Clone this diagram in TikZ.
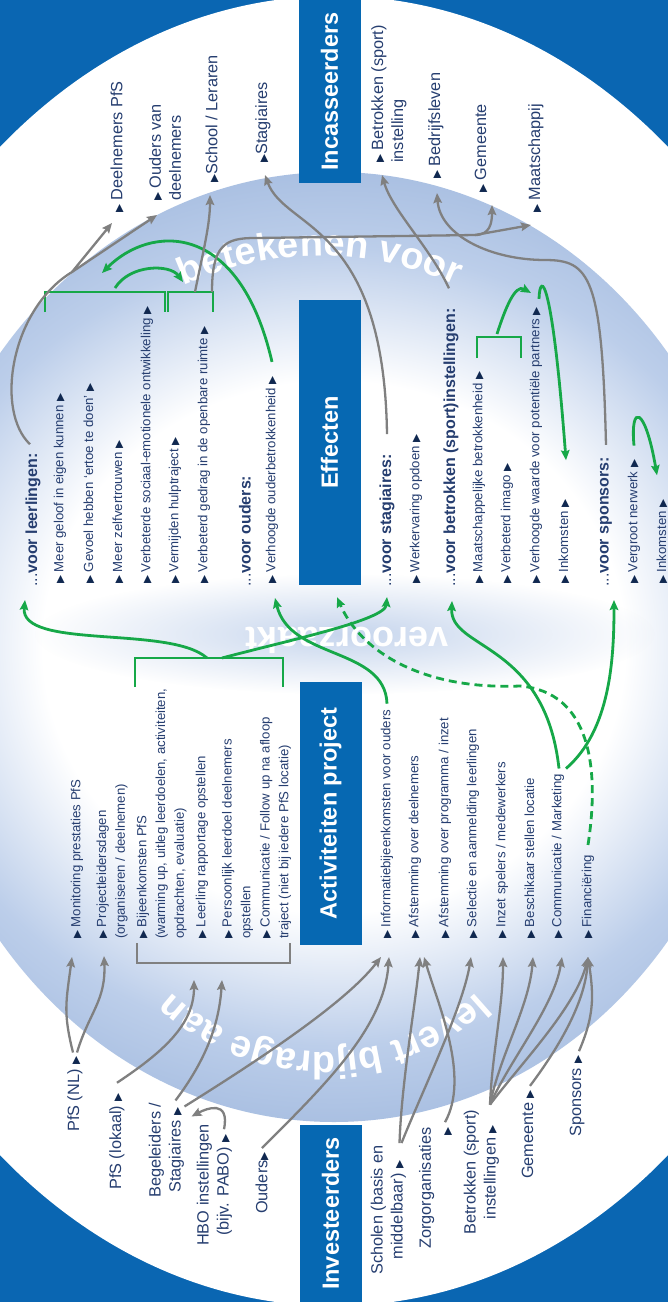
\documentclass[tikz,border=0pt]{standalone}
\usepackage{fontspec}
\setmainfont{Liberation Sans}
\newfontfamily\trifont{DejaVu Sans}
\usepackage{tikz}
\usetikzlibrary{arrows.meta, decorations.text, fadings}

\definecolor{bgblue}{RGB}{10,102,178}
\definecolor{barblue}{RGB}{6,104,178}
\definecolor{lensblue}{RGB}{188,206,234}
\definecolor{lensdeep}{RGB}{170,192,226}
\definecolor{navy}{RGB}{38,62,112}
\definecolor{trinavy}{RGB}{16,40,80}
\definecolor{arrowgrey}{RGB}{128,128,128}
\definecolor{arrowgreen}{RGB}{22,168,72}

\pgfdeclareradialshading{lens}{\pgfpoint{0bp}{0bp}}{color(0bp)=(white); color(14bp)=(white); color(21bp)=(lensblue); color(25bp)=(lensdeep); color(50bp)=(lensdeep)}
\tikzfading[name=cloudfade, inner color=transparent!15, outer color=transparent!100]

\newcommand{\tri}{{\trifont\fontsize{10.5}{10.5}\selectfont\color{trinavy}▶}}

\tikzstyle{lbl} = [rotate=90, anchor=west, inner sep=0pt, text=navy, align=left, font=\fontsize{16.3}{20}\selectfont]
\tikzstyle{lblc} = [lbl, align=center]
\tikzstyle{itembox} = [rotate=90, anchor=west, inner sep=0pt, text=navy, align=left, font=\fontsize{13.2}{18.7}\selectfont]
\tikzstyle{headbox} = [itembox, font=\fontsize{16}{19}\selectfont]
\tikzstyle{barbox} = [rectangle, rotate=90, fill=barblue, text=white, inner sep=0pt, minimum height=62pt, font=\bfseries\fontsize{23.5}{28}\selectfont]
\tikzstyle{greyline} = [draw=arrowgrey, line width=2.3pt, ->]
\tikzstyle{greenline} = [draw=arrowgreen, line width=2.8pt, ->]
\tikzstyle{greendash} = [greenline, dash pattern=on 8pt off 5pt]
\tikzstyle{greybrack} = [draw=arrowgrey, line width=2.3pt]
\tikzstyle{greenbrack} = [draw=arrowgreen, line width=2.8pt]

\begin{document}
\begin{tikzpicture}[x=1pt, y=1pt, >={Stealth[length=10pt, width=8.5pt, inset=1.5pt]}]

\useasboundingbox (0,0) rectangle (668,-1302);
\clip (0,0) rectangle (668,-1302);

% background
\fill[bgblue] (0,0) rectangle (668,-1302);
\fill[white] (334,-651) ellipse [x radius=523, y radius=655];
\begin{scope}
  \clip (334,-647) ellipse [x radius=425, y radius=475];
  \shade[shading=lens] (334,-647) ellipse [x radius=520, y radius=475];
\end{scope}
\fill[lensblue, path fading=cloudfade] (345,-634) ellipse [x radius=310, y radius=60];

% words along the arcs
\path[decorate, decoration={text along path, text color=white, text align=center,
  text={|\bfseries\fontsize{38}{38}\selectfont|betekenen voor}}]
  (320,-586) ++(160:330) arc[start angle=160, end angle=20, radius=330];
\path[decorate, decoration={text along path, text color=white, text align=center,
  text={|\bfseries\fontsize{38}{38}\selectfont|levert bijdrage aan}}]
  (324,-828) ++(-20:224) arc[start angle=-20, end angle=-160, radius=224];
\node[rotate=180, anchor=base, inner sep=0pt, text=white, font=\bfseries\fontsize{36}{36}\selectfont] (verz) at (347,-627) {veroorzaakt};

% column bars
\node[barbox, minimum width=183pt] (inc) at (329.5,-91.5) {Incasseerders};
\node[barbox, minimum width=285pt] (eff) at (329.5,-442.5) {Effecten};
\node[barbox, minimum width=263pt] (act) at (330.5,-813.5) {Activiteiten project};
\node[barbox, minimum width=177pt] (inv) at (330.5,-1213.5) {Investeerders};

% incasseerders
\node[lbl] (dln) at (117,-213) {\tri\ Deelnemers PfS};
\node[lbl] (oud) at (165,-201) {\tri\ Ouders van\\deelnemers};
\node[lbl] (sch) at (212,-183) {\tri School / Leraren};
\node[lbl] (stg) at (263,-163) {\tri Stagiaires};
\node[lbl] (btr) at (389,-163) {\tri\ Betrokken (sport)\\instelling};
\node[lbl] (bdr) at (436,-179) {\tri\ Bedrijfsleven};
\node[lbl] (gem) at (481,-193) {\tri\ Gemeente};
\node[lbl] (maa) at (536,-213) {\tri\ Maatschappij};

% effecten
\node[headbox] (vl) at (33,-587) {...\textbf{voor leerlingen:}};
\node[itembox] (e1) at (60,-584) {\tri\ Meer geloof in eigen kunnen \tri};
\node[itembox] (e2) at (89,-584) {\tri\ Gevoel hebben ‘ertoe te doen’ \tri};
\node[itembox] (e3) at (118,-584) {\tri\ Meer zelfvertrouwen \tri};
\node[itembox] (e4) at (147,-584) {\tri\ Verbeterde sociaal-emotionele ontwikkeling \tri};
\node[itembox] (e5) at (175,-584) {\tri\ Vermijden hulptraject \tri};
\node[itembox] (e6) at (204,-584) {\tri\ Verbeterd gedrag in de openbare ruimte \tri};
\node[headbox] (vo) at (245,-587) {...\textbf{voor ouders:}};
\node[itembox] (e7) at (272,-584) {\tri\ Verhoogde ouderbetrokkenheid \tri};
\node[headbox] (vs) at (387,-587) {...\textbf{voor stagiaires:}};
\node[itembox] (e8) at (416,-584) {\tri\ Werkervaring opdoen \tri};
\node[headbox] (vb) at (451,-587) {...\textbf{voor betrokken (sport)instellingen:}};
\node[itembox] (e9) at (479,-584) {\tri\ Maatschappelijke betrokkenheid \tri};
\node[itembox] (e10) at (507,-584) {\tri\ Verbeterd imago \tri};
\node[itembox] (e11) at (536,-584) {\tri\ Verhoogde waarde voor potentiële partners \tri};
\node[itembox] (e12) at (564,-584) {\tri\ Inkomsten \tri};
\node[headbox] (vsp) at (606,-587) {...\textbf{voor sponsors:}};
\node[itembox] (e13) at (634,-584) {\tri\ Vergroot nerwerk \tri};
\node[itembox] (e14) at (662,-584) {\tri\ Inkomsten \tri};

% activiteiten
\node[itembox] (a1) at (77,-939) {\tri\ Monitoring prestaties PfS};
\node[itembox] (a2) at (112,-939) {\tri\ Projectleidersdagen\\(organiseren / deelnemen)};
\node[itembox] (a3) at (161.7,-939) {\tri\ Bijeenkomsten PfS\\(warming up, uitleg leerdoelen, activiteiten,\\opdrachten, evaluatie)};
\node[itembox] (a4) at (202,-939) {\tri\ Leerling rapportage opstellen};
\node[itembox] (a5) at (237.5,-939) {\tri\ Persoonlijk leerdoel deelnemers\\opstellen};
\node[itembox] (a6) at (275.5,-939) {\tri\ Communicatie / Follow up na afloop\\traject (niet bij iedere PfS locatie)};
\node[itembox] (a7) at (387,-939) {\tri\ Informatiebijeenkomsten voor ouders};
\node[itembox] (a8) at (415,-939) {\tri\ Afstemming over deelnemers};
\node[itembox] (a9) at (445,-939) {\tri\ Afstemming over programma / inzet};
\node[itembox] (a10) at (473,-939) {\tri\ Selectie en aanmelding leerlingen};
\node[itembox] (a11) at (502,-939) {\tri\ Inzet spelers / medewerkers};
\node[itembox] (a12) at (530,-939) {\tri\ Beschikaar stellen locatie};
\node[itembox] (a13) at (558,-939) {\tri\ Communicatie / Marketing};
\node[itembox] (a14) at (588,-939) {\tri\ Financiëring};

% investeerders
\node[lblc] (i1) at (75,-1132) {PfS (NL) \tri};
\node[lblc] (i2) at (117,-1190) {PfS (lokaal) \tri};
\node[lblc] (i3) at (166.5,-1198) {Begeleiders /\\Stagiaires \tri};
\node[lblc] (i4) at (214.5,-1246) {HBO instellingen\\(bijv. PABO) \tri};
\node[lblc] (i5) at (262,-1214) {Ouders\tri};
\node[lblc] (i6) at (388.5,-1275) {Scholen (basis en\\middelbaar) \tri};
\node[lbl, align=right] (i7) at (435.5,-1249) {Zorgorganisaties\\\tri};
\node[lblc] (i8) at (481.5,-1235) {Betrokken (sport)\\instellingen \tri};
\node[lblc] (i9) at (528,-1179) {Gemeente \tri};
\node[lblc] (i10) at (577,-1137) {Sponsors \tri};

% brackets
\coordinate (gbrk) at (213,-963);
\coordinate (abrk) at (209,-658);
\coordinate (b1brk) at (105,-292);
\coordinate (b2brk) at (190.5,-292);
\coordinate (cbrk) at (499,-337);
\draw[greybrack] (gbrk) ++(-76,20) -- ++(0,-20) -- ++(153,0) -- ++(0,20);
\draw[greenbrack] (abrk) ++(-74,-29) -- ++(0,29) -- ++(148,0) -- ++(0,-29);
\draw[greenbrack] (b1brk) ++(-60,-20) -- ++(0,20) -- ++(120,0) -- ++(0,-20);
\draw[greenbrack] (b2brk) ++(-22.5,-20) -- ++(0,20) -- ++(45,0) -- ++(0,-20);
\draw[greenbrack] (cbrk) ++(-22,-21) -- ++(0,21) -- ++(44,0) -- ++(0,-21);

% investeerders -> activiteiten
\draw[greyline] ([xshift=-2pt,yshift=4pt]i1.east) .. controls +(-10,40) and +(-6,-45) .. ([xshift=-5pt,yshift=-18pt]a1.west);
\draw[greyline] ([xshift=2pt,yshift=4pt]i1.east) .. controls +(12,40) and +(2,-45) .. ([xshift=-8pt,yshift=-17pt]a2.west);
\draw[greyline] ([yshift=10pt]i2.east) .. controls +(45,30) and +(0,-45) .. ([xshift=-19pt,yshift=-17pt]gbrk);
\draw[greyline] ([xshift=9pt,yshift=2pt]i3.east) .. controls +(30,40) and +(-3,-45) .. ([xshift=9pt,yshift=-17pt]gbrk);
\draw[greyline] ([xshift=18pt,yshift=-4pt]i3.east) .. controls +(80,50) and +(-35,-45) .. ([xshift=-6pt,yshift=-18pt]a7.west);
\draw[greyline] ([xshift=9.5pt,yshift=-5pt]i4.east) .. controls +(6,30) and +(15,8) .. ([xshift=25pt,yshift=-14pt]i3.east);
\draw[greyline] ([yshift=4pt]i5.east) .. controls +(65,65) and +(-5,-70) .. ([xshift=2pt,yshift=-18pt]a7.west);
\draw[greyline] ([xshift=11pt,yshift=2pt]i6.east) .. controls +(2,60) and +(-5,-50) .. ([xshift=5pt,yshift=-18pt]a8.west);
\draw[greyline] ([xshift=13pt,yshift=2pt]i6.east) .. controls +(20,50) and +(-8,-50) .. ([xshift=-2pt,yshift=-18pt]a10.west);
\draw[greyline] ([xshift=9.5pt,yshift=5pt]i7.east) .. controls +(25,45) and +(15,-50) .. ([xshift=9pt,yshift=-18pt]a8.west);
\draw[greyline] ([xshift=8.5pt,yshift=5pt]i8.east) .. controls +(2,50) and +(0,-50) .. ([xshift=1pt,yshift=-18pt]a11.west);
\draw[greyline] ([xshift=8.5pt,yshift=5pt]i8.east) .. controls +(10,50) and +(-4,-50) .. ([xshift=3pt,yshift=-18pt]a12.west);
\draw[greyline] ([xshift=8.5pt,yshift=5pt]i8.east) .. controls +(20,45) and +(-8,-50) .. ([xshift=4pt,yshift=-18pt]a13.west);
\draw[greyline] ([xshift=8.5pt,yshift=5pt]i8.east) .. controls +(30,40) and +(-12,-50) .. ([yshift=-18pt]a14.west);
\draw[greyline] ([xshift=2pt,yshift=4pt]i9.east) .. controls +(30,40) and +(-3,-45) .. ([yshift=-18pt]a14.west);
\draw[greyline] ([xshift=2pt,yshift=4pt]i10.east) .. controls +(15,35) and +(6,-40) .. ([yshift=-18pt]a14.west);

% activiteiten -> effecten
\draw[greenline] ([xshift=-2pt]abrk) .. controls +(-37,33) and +(-5,-50) .. ([xshift=-8pt,yshift=-13pt]vl.west);
\draw[greenline] ([xshift=13pt]abrk) .. controls +(68,18) and +(-2,-23) .. ([yshift=-10pt]vs.west);
\draw[greenline] ([yshift=6pt]a7.east) .. controls +(-2,57) and +(15,-62) .. ([xshift=3pt,yshift=-14pt]e7.west);
\draw[greendash] ([yshift=10pt]a14.east) .. controls +(12,78) and +(70,-6) .. (520,-686)
  .. controls +(-100,-4) and +(23,-53) .. ([xshift=7.5pt,yshift=-12pt]eff.west);
\draw[greenline] ([xshift=1pt,yshift=5pt]a13.east) .. controls +(-14,127) and +(-2,-49) .. ([xshift=1pt,yshift=-14pt]vb.west);
\draw[greenline] ([xshift=8pt,yshift=5pt]a13.east) .. controls +(44,38) and +(0,-60) .. ([xshift=8pt,yshift=-13pt]vsp.west);

% effecten onderling
\draw[greenline] ([xshift=10pt,yshift=4pt]b1brk) .. controls +(15,24) and +(-13,18) .. ([xshift=-7.5pt,yshift=10pt]b2brk);
\draw[greenline] ([yshift=14pt]e7.east) .. controls +(-33,143) and +(48,48) .. ([xshift=-3pt,yshift=19pt]b1brk);
\draw[greenline] ([xshift=-2pt,yshift=3pt]cbrk) .. controls +(8,25) and +(-16,9) .. ([xshift=-5pt,yshift=14pt]e11.east);
\draw[greenline] ([xshift=3pt,yshift=8pt]e11.east) .. controls +(1,28) and +(-14,185) .. ([xshift=2pt,yshift=39pt]e12.east);
\draw[greenline] ([yshift=14pt]e13.east) .. controls +(-4,42) and +(-12,70) .. ([xshift=-5pt,yshift=24pt]e14.east);

% effecten -> incasseerders
\coordinate (lbr) at (72,-272);
\coordinate (rbr) at (475,-235);
\draw[greyline] ([xshift=-3pt,yshift=9pt]vl.east) .. controls +(-35,33) and +(-62,-38) .. (lbr) -- ([xshift=-5pt,yshift=-10pt]dln.west);
\draw[greyline] (lbr) -- ([xshift=-8pt,yshift=-14pt]oud.west);
\draw[greyline] ([xshift=4.5pt]b2brk) .. controls +(8,40) and +(0,-30) .. ([xshift=-2pt,yshift=-12pt]sch.west);
\draw[greyline] ([xshift=21.5pt]b2brk) .. controls +(0,47) and +(-30,0) .. (255,-238) -- (rbr) -- ([xshift=-5pt,yshift=-12pt]maa.west);
\draw[greyline] (rbr) .. controls +(15,0) and +(0,-18) .. ([xshift=11pt,yshift=-12pt]gem.west);
\draw[greyline] ([yshift=20pt]vs.east) .. controls +(-3,212) and +(20,-55) .. ([xshift=2pt,yshift=-12pt]stg.west);
\draw[greyline] ([xshift=-2pt,yshift=20pt]vb.east) .. controls +(-19,41) and +(10,-35) .. ([xshift=-7pt,yshift=-12pt]btr.west);
\draw[greyline] ([yshift=12pt]vsp.east) .. controls +(-4,168) and +(45,0) .. (545,-260)
  .. controls +(-55,0) and +(3,-42) .. ([xshift=1pt,yshift=-14pt]bdr.west);

\end{tikzpicture}
\end{document}
